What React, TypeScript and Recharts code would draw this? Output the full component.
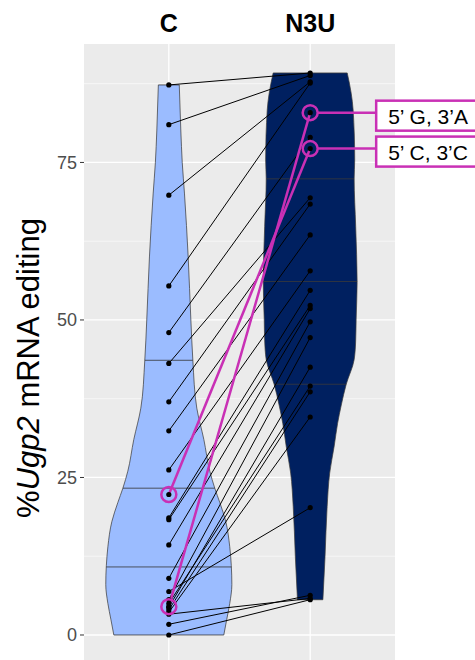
import { ComposedChart, Area, Scatter, XAxis, YAxis, CartesianGrid, ReferenceDot, Label } from 'recharts';

const categories = ['C', 'N3U'];

// paired samples: index i in C goes with index i in N3U
const cEditing = [87.3, 81.0, 69.8, 55.4, 48.0, 43.1, 37.0, 32.4, 26.2, 22.3, 18.6, 18.3, 14.3, 9.0, 6.9, 5.6, 5.0, 4.5, 4.4, 4.0, 3.6, 3.3, 1.7, 0.0];
const n3uEditing = [89.2, 88.8, 87.8, 87.6, 79.0, 69.4, 68.4, 63.5, 57.8, 77.2, 54.7, 52.3, 51.8, 49.7, 20.2, 47.2, 39.5, 82.9, 42.5, 38.6, 34.6, 5.8, 6.3, 5.6];

const highlightIndex = [17, 9];
const highlightLabels = ['5’ G, 3’A', '5’ C, 3’C'];

// violin outlines (half width in category units)
const cDensityLevels = [0, 2.5, 5, 8, 11, 14, 18, 21, 23.3, 26, 31, 36, 43.6, 50, 60, 70, 75, 80, 87.3];
const cDensityHalfWidth = [0.389, 0.41, 0.431, 0.446, 0.442, 0.431, 0.403, 0.361, 0.325, 0.29, 0.248, 0.198, 0.17, 0.156, 0.137, 0.111, 0.095, 0.085, 0.074];
const n3uDensityLevels = [5.6, 12.4, 20.4, 25.7, 30, 33.6, 36.5, 39.8, 43.7, 46.8, 50, 56, 64.8, 72.4, 75.4, 83.3, 86, 89.2];
const n3uDensityHalfWidth = [0.09, 0.105, 0.12, 0.138, 0.17, 0.194, 0.22, 0.255, 0.311, 0.322, 0.325, 0.332, 0.322, 0.311, 0.315, 0.304, 0.29, 0.262];

const cQuartiles = [10.8, 23.3, 43.6];
const n3uQuartiles = [39.8, 56.1, 72.4];

const yTicks = [0, 25, 50, 75];
const yMinorTicks = [12.5, 37.5, 62.5, 87.5];

const MAGENTA = '#c930b5';

function halfWidthAt(levels: number[], widths: number[], v: number) {
  for (let i = 1; i < levels.length; i++) {
    if (v <= levels[i]) {
      const t = (v - levels[i - 1]) / (levels[i] - levels[i - 1]);
      return widths[i - 1] + t * (widths[i] - widths[i - 1]);
    }
  }
  return widths[widths.length - 1];
}

const violins = [
  { center: 1, levels: cDensityLevels, widths: cDensityHalfWidth, quartiles: cQuartiles, fill: '#9bbcff', stroke: '#333' },
  { center: 2, levels: n3uDensityLevels, widths: n3uDensityHalfWidth, quartiles: n3uQuartiles, fill: '#002060', stroke: '#3a3a3a' },
];

const violinData = violins.map((vl) =>
  vl.levels.map((v, i) => ({ v, range: [vl.center - vl.widths[i], vl.center + vl.widths[i]] }))
);

// quartile lines plus the flat caps at both ends
const violinSegments = violins.flatMap((vl) => {
  const ends = [vl.levels[0], vl.levels[vl.levels.length - 1]];
  return [...vl.quartiles, ...ends].map((q) => {
    const w = halfWidthAt(vl.levels, vl.widths, q);
    return { stroke: vl.stroke, data: [{ x: vl.center - w, v: q }, { x: vl.center + w, v: q }] };
  });
});

const pairs = cEditing.map((c, i) => [{ x: 1, v: c }, { x: 2, v: n3uEditing[i] }]);
const allDots = pairs.flat();
const highlightDots = highlightIndex.flatMap((i) => pairs[i]);

const noShape = () => <g />;

const renderDot = (props: any) => <circle cx={props.cx} cy={props.cy} r={2.6} fill="#000" />;

const renderRing = (props: any) => (
  <circle cx={props.cx} cy={props.cy} r={7.5} fill="none" stroke={MAGENTA} strokeWidth={2.5} />
);

const makeCallout = (text: string) => (props: any) => {
  const { cx, cy } = props;
  return (
    <g>
      <line x1={cx + 7.5} y1={cy} x2={cx + 66} y2={cy} stroke={MAGENTA} strokeWidth={2.5} />
      <rect x={cx + 66} y={cy - 12} width={200} height={30} fill="#fff" stroke={MAGENTA} strokeWidth={2.5} />
      <text x={cx + 78} y={cy + 11} fontSize={21} fill="#000">{text}</text>
    </g>
  );
};

const renderYLabel = (props: any) => {
  const vb = props.viewBox;
  const x = vb.x + 39;
  const y = vb.y + vb.height / 2 + 16;
  return (
    <text x={x} y={y} transform={`rotate(-90 ${x} ${y})`} textAnchor="middle" fontSize={31} fill="#000">
      %<tspan fontStyle="italic">Ugp2</tspan> mRNA editing
    </text>
  );
};

export default function App() {
  return (
    <div style={{ position: 'fixed', left: 0, top: 0, background: '#fff', fontFamily: '"Liberation Sans", Arial, sans-serif' }}>
      <ComposedChart width={475} height={660} layout="vertical" margin={{ top: 0, right: 80, bottom: 0, left: 0 }}>
        <CartesianGrid fill="#ebebeb" stroke="#fff" strokeWidth={1.3} horizontalValues={yTicks} verticalValues={[1, 2]} />
        <CartesianGrid stroke="#fff" strokeWidth={0.6} horizontalValues={yMinorTicks} vertical={false} />
        <XAxis
          type="number"
          dataKey="x"
          orientation="top"
          domain={[0.4, 2.6]}
          ticks={[1, 2]}
          tickFormatter={(t: number) => categories[t - 1]}
          height={44}
          tickSize={0}
          tickMargin={12}
          axisLine={false}
          tick={{ fontSize: 25, fontWeight: 700, fill: '#000' }}
          allowDataOverflow
        />
        <YAxis
          type="number"
          dataKey="v"
          reversed
          domain={[-3.97, 93.8]}
          ticks={yTicks}
          width={84}
          tickSize={4}
          tickMargin={3}
          axisLine={false}
          tickLine={{ stroke: '#333' }}
          tick={{ fontSize: 18, fill: '#4d4d4d' }}
          allowDataOverflow
        >
          <Label content={renderYLabel} />
        </YAxis>
        {violins.map((vl, i) => (
          <Area
            key={'violin' + i}
            data={violinData[i]}
            dataKey="range"
            type="monotone"
            fill={vl.fill}
            fillOpacity={1}
            stroke={vl.stroke}
            strokeWidth={0.7}
            dot={false}
            activeDot={false}
            isAnimationActive={false}
          />
        ))}
        {violinSegments.map((s, i) => (
          <Scatter key={'seg' + i} data={s.data} line={{ stroke: s.stroke, strokeWidth: 0.8 }} shape={noShape} isAnimationActive={false} />
        ))}
        {pairs.map((p, i) => (
          <Scatter key={'pair' + i} data={p} line={{ stroke: '#000', strokeWidth: 1 }} shape={noShape} isAnimationActive={false} />
        ))}
        {highlightIndex.map((idx) => (
          <Scatter key={'hl' + idx} data={pairs[idx]} line={{ stroke: MAGENTA, strokeWidth: 2.5 }} shape={noShape} isAnimationActive={false} />
        ))}
        <Scatter data={allDots} shape={renderDot} isAnimationActive={false} />
        <Scatter data={highlightDots} shape={renderRing} isAnimationActive={false} />
        {highlightIndex.map((idx, k) => (
          <ReferenceDot
            key={'call' + idx}
            x={2}
            y={n3uEditing[idx]}
            ifOverflow="visible"
            shape={makeCallout(highlightLabels[k])}
          />
        ))}
      </ComposedChart>
    </div>
  );
}
